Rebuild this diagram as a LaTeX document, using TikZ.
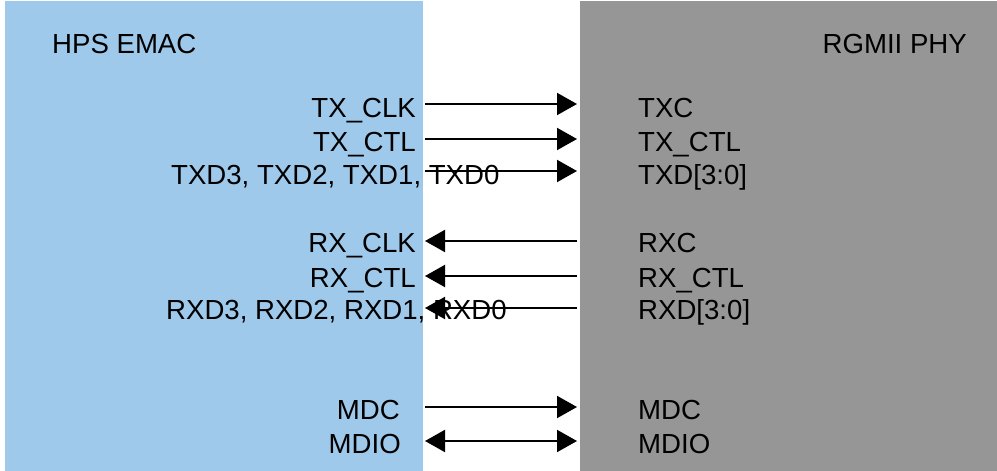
\documentclass[tikz,border=0pt]{standalone}
\usepackage{fontspec}
\setmainfont{Liberation Sans}
\usetikzlibrary{arrows.meta}
\definecolor{emacblue}{RGB}{159,201,235}
\definecolor{phygray}{RGB}{150,150,150}
\begin{document}
\begin{tikzpicture}[x=1pt,y=-1pt,
  lbl/.style={inner sep=0pt, font=\fontsize{27.6}{33}\selectfont},
  blk/.style={inner sep=0pt, outer sep=0pt, anchor=north west},
  sig/.style={line width=2pt, -{Triangle[length=20pt,width=22pt]}},
  bisig/.style={line width=2pt, {Triangle[length=20pt,width=22pt]}-{Triangle[length=20pt,width=22pt]}}]
\useasboundingbox (0,0) rectangle (997,471);
\node[blk, fill=emacblue, minimum width=418pt, minimum height=470pt] (emac) at (5,1) {};
\node[blk, fill=phygray, minimum width=417pt, minimum height=470pt] (phy) at (580,1) {};
\node[lbl, anchor=base west] (hps) at (52,53) {HPS EMAC};
\node[lbl, anchor=base east] (rgmii) at (967,53) {RGMII PHY};
% left labels
\node[lbl, anchor=base east] (ltxclk) at (416,117) {TX\_CLK};
\node[lbl, anchor=base east] (ltxctl) at (416,151) {TX\_CTL};
\node[lbl, anchor=base west] (ltxd) at (171,184) {TXD3, TXD2, TXD1, TXD0};
\node[lbl, anchor=base east] (lrxclk) at (416,252) {RX\_CLK};
\node[lbl, anchor=base east] (lrxctl) at (416,287) {RX\_CTL};
\node[lbl, anchor=base west] (lrxd) at (166,319) {RXD3, RXD2, RXD1, RXD0};
\node[lbl, anchor=base east] (lmdc) at (400,419) {MDC};
\node[lbl, anchor=base east] (lmdio) at (401,453) {MDIO};
% right labels
\node[lbl, anchor=base west] (rtxc) at (638,117) {TXC};
\node[lbl, anchor=base west] (rtxctl) at (638,151) {TX\_CTL};
\node[lbl, anchor=base west] (rtxd) at (638,184) {TXD[3:0]};
\node[lbl, anchor=base west] (rrxc) at (638,252) {RXC};
\node[lbl, anchor=base west] (rrxctl) at (638,287) {RX\_CTL};
\node[lbl, anchor=base west] (rrxd) at (638,319) {RXD[3:0]};
\node[lbl, anchor=base west] (rmdc) at (638,419) {MDC};
\node[lbl, anchor=base west] (rmdio) at (638,453) {MDIO};
% connector ends
\foreach \n/\y in {txclk/104,txctl/139,txd/171,rxclk/241,rxctl/276,rxd/308,mdc/407,mdio/441}{
  \coordinate (a\n) at (425,\y);
  \coordinate (b\n) at (577,\y);
}
\draw[sig] (atxclk) -- (btxclk);
\draw[sig] (atxctl) -- (btxctl);
\draw[sig] (atxd) -- (btxd);
\draw[sig] (brxclk) -- (arxclk);
\draw[sig] (brxctl) -- (arxctl);
\draw[sig] (brxd) -- (arxd);
\draw[sig] (amdc) -- (bmdc);
\draw[bisig] (amdio) -- (bmdio);
\end{tikzpicture}
\end{document}
